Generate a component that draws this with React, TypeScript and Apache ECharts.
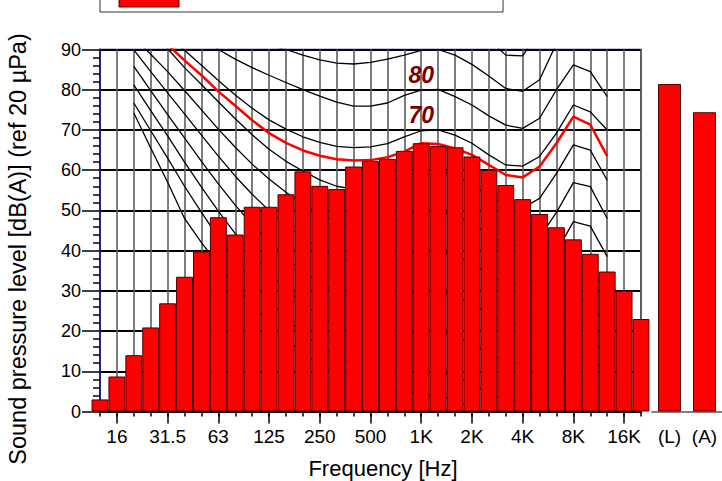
import React, { useEffect, useRef } from "react";
import * as echarts from "echarts";

const FONT = "'Liberation Sans', Arial, Helvetica, sans-serif";

// third-octave band centres shown on the x axis (12.5 Hz .. 20 kHz)
const bands = ["12.5", "16", "20", "25", "31.5", "40", "50", "63", "80", "100", "125", "160", "200", "250", "315", "400", "500", "630", "800", "1K", "1.25K", "1.6K", "2K", "2.5K", "3.15K", "4K", "5K", "6.3K", "8K", "10K", "12.5K", "16K", "20K"];
const tickLabels = ["16", "31.5", "63", "125", "250", "500", "1K", "2K", "4K", "8K", "16K"];
// measured band levels dB(A)
const spectrum = [3.0, 8.7, 14.0, 20.9, 26.9, 33.5, 39.8, 48.3, 44.0, 50.9, 50.9, 54.0, 59.7, 56.1, 55.3, 60.9, 62.3, 62.8, 64.8, 66.7, 66.0, 65.7, 63.4, 60.1, 56.3, 52.8, 49.1, 45.8, 42.8, 39.2, 34.8, 30.0, 23.0];
const totalCats = ["(L)", "(A)"];
const totals = [81.4, 74.4];

// equal-loudness contours, 20 Hz .. 12.5 kHz
const contourBands = ["20", "25", "31.5", "40", "50", "63", "80", "100", "125", "160", "200", "250", "315", "400", "500", "630", "800", "1K", "1.25K", "1.6K", "2K", "2.5K", "3.15K", "4K", "5K", "6.3K", "8K", "10K", "12.5K"];
const phon100 = [125, 120, 115, 111, 108, 105, 103, 101.5, 100.5, 99.5, 98.5, 97.5, 96.8, 96.4, 96.6, 97.3, 98.5, 99.8, 100, 98.6, 96, 92.4, 88.6, 88.4, 94.8, 101, 106, 104, 101];
const phon90 = [118, 113, 108.5, 104, 100.5, 97, 94.5, 92.5, 91, 90, 88.6, 87.4, 86.6, 86.4, 86.8, 87.6, 88.6, 89.8, 90, 88.6, 86.3, 83.4, 80.3, 79.6, 82.5, 91.5, 96, 94.5, 91];
const phon80 = [110, 105.5, 101, 97, 93.4, 90, 87.6, 85.5, 83.6, 81.8, 80, 78.4, 76.9, 75.9, 75.9, 76.7, 78.6, 79.9, 80.1, 78.3, 76.2, 73.5, 71.2, 70.4, 72.9, 80, 86.2, 84.5, 78.3];
const phon70 = [101, 97.3, 93.5, 89.8, 86.1, 82.3, 78.7, 75.4, 72.5, 70.2, 68.3, 66.9, 65.9, 65.6, 65.8, 66.6, 68.3, 69.8, 70, 68.7, 66.7, 63.8, 61.3, 61.0, 63.4, 69.2, 76.2, 74.5, 70];
const phonMeasured = [99, 95, 91.2, 87.3, 83.6, 79.6, 76, 72.4, 69.2, 66.8, 64.9, 63.6, 62.7, 62.4, 62.5, 63.2, 64.6, 66.7, 66.5, 65.4, 63.8, 61.3, 58.8, 58.2, 60.9, 66.7, 73.3, 71.3, 63.5];
const phon60 = [97.5, 93.8, 90.2, 85.5, 81.3, 77, 72.8, 68.8, 65.2, 62.2, 59.8, 57.6, 56, 55.3, 55.5, 56.5, 58.4, 60, 60, 58.6, 56.5, 53.5, 51, 50.6, 53, 59.2, 66.3, 65, 57.5];
const phon50 = [93, 88.8, 84.5, 79.8, 75, 70.2, 65.7, 61.5, 57.8, 54.5, 51.5, 49, 47, 46, 46, 46.8, 48.5, 50, 50, 48.8, 46.8, 44, 41.5, 41, 43.3, 49.5, 56.9, 55.9, 48];
const phon40 = [89.9, 84.5, 79.2, 74, 68.7, 63.5, 58.5, 54, 50, 46.3, 43.2, 40.5, 38.3, 37, 36.5, 37, 38.6, 40, 40, 38.8, 36.8, 34.2, 31.8, 31.3, 33.6, 39.7, 47.2, 46.1, 38.5];
const phon30 = [85.8, 79.8, 73.8, 68, 62.2, 56.6, 51.3, 46.5, 42.2, 38.3, 34.8, 32, 29.6, 28, 27.3, 27.6, 28.8, 30, 30, 28.8, 26.8, 24.3, 22, 21.5, 24, 30, 37.5, 36.5, 29];
const phon20 = [81.2, 74.8, 68.5, 62, 55.8, 49.8, 44.2, 39.2, 34.6, 30.4, 26.8, 23.8, 21.3, 19.5, 18.4, 18.3, 19.2, 20, 20, 18.8, 16.8, 14.5, 12.3, 11.8, 14.3, 20.3, 28, 27.5, 20.5];
const phon10 = [76.7, 69.8, 63, 56, 49.5, 43.3, 37.5, 32.3, 27.6, 23.2, 19.4, 16.2, 13.6, 11.5, 10.2, 9.7, 10, 10, 10, 8.8, 6.8, 4.6, 2.6, 2.2, 4.8, 11, 19, 19, 13];
const threshold = [74.2, 65.5, 57, 48, 42, 36.5, 31, 26.5, 22, 18, 14.6, 11.6, 9.2, 7.3, 6, 5.3, 5, 4.2, 3.8, 2.8, 0.8, -1.5, -3.3, -3.8, -1.2, 5, 13, 14, 9];

const blackContours = [phon100, phon90, phon80, phon70, phon60, phon50, phon40, phon30, phon20, phon10, threshold];
// contour labels placed at 1 kHz
const contourLabels = ["80", "70"];
const labelledContours = [phon80, phon70];

function contourData(values: number[]) {
  return values.map((v, k) => [bands.indexOf(contourBands[k]), v]);
}

export default function App() {
  const ref = useRef<HTMLDivElement>(null);

  useEffect(() => {
    document.body.style.margin = "0";
    if (!ref.current) return;
    const chart = echarts.init(ref.current, undefined, { renderer: "svg" });
    const labelPos = tickLabels.map((l) => bands.indexOf(l));
    const k1 = contourBands.indexOf("1K");

    const series: any[] = [];
    blackContours.forEach((values) => {
      series.push({
        type: "line",
        xAxisIndex: 0,
        yAxisIndex: 0,
        data: contourData(values),
        symbol: "none",
        silent: true,
        z: 2,
        lineStyle: { color: "#000", width: 1.3 },
        clip: true,
      });
    });
    series.push({
      type: "line",
      xAxisIndex: 0,
      yAxisIndex: 0,
      data: contourData(phonMeasured),
      symbol: "none",
      silent: true,
      z: 2,
      lineStyle: { color: "#ff0000", width: 2.5 },
      clip: true,
    });
    series.push({
      type: "bar",
      xAxisIndex: 0,
      yAxisIndex: 0,
      z: 5,
      data: spectrum.map((v, i) => [i, v]),
      barWidth: 16.9,
      clip: true,
      itemStyle: { color: "#ff0000", borderColor: "#4a0000", borderWidth: 1 },
    });
    series.push({
      type: "scatter",
      xAxisIndex: 0,
      yAxisIndex: 0,
      z: 8,
      silent: true,
      symbolSize: 2,
      itemStyle: { color: "rgba(0,0,0,0)", opacity: 1 },
      data: labelledContours.map((vals, i) => ({
        name: contourLabels[i],
        value: [bands.indexOf("1K"), vals[k1]],
      })),
      label: {
        show: true,
        position: "top",
        distance: 3,
        formatter: (p: any) => p.name,
        color: "#7a0000",
        opacity: 1,
        fontSize: 23,
        fontWeight: "bold",
        fontStyle: "italic",
        fontFamily: FONT,
      },
    });
    series.push({
      type: "bar",
      xAxisIndex: 2,
      yAxisIndex: 1,
      z: 5,
      data: totals,
      barWidth: 23,
      itemStyle: { color: "#ff0000", borderColor: "#4a0000", borderWidth: 1 },
    });

    chart.setOption({
      animation: false,
      backgroundColor: "#fff",
      textStyle: { fontFamily: FONT },
      grid: [
        { left: 100, right: 81, top: 49.5, bottom: 69.5, show: true, borderColor: "#23237a", borderWidth: 1.5, backgroundColor: "#fff" },
        { left: 652, width: 72, top: 49.5, bottom: 69.5 },
      ],
      xAxis: [
        {
          gridIndex: 0,
          type: "value",
          min: 0,
          max: 32,
          interval: 1,
          axisLine: { show: true, lineStyle: { color: "#000", width: 2 } },
          axisTick: { show: true, length: 5, lineStyle: { color: "#000", width: 1.5 } },
          axisLabel: { show: false },
          splitLine: { show: true, lineStyle: { color: "#5e5e5e", width: 1.6 } },
        },
        {
          gridIndex: 0,
          type: "value",
          min: 0,
          max: 32,
          position: "bottom",
          axisLine: { show: false },
          axisTick: { show: true, length: 12, customValues: labelPos, lineStyle: { color: "#000", width: 1.5 } },
          axisLabel: {
            show: true,
            customValues: labelPos,
            formatter: (v: number) => bands[Math.round(v)],
            fontSize: 19,
            color: "#000",
            margin: 15,
            fontFamily: FONT,
          },
          splitLine: { show: false },
        },
        {
          gridIndex: 1,
          type: "category",
          data: totalCats,
          axisLine: { show: true, lineStyle: { color: "#808080", width: 2 } },
          axisTick: { show: false },
          axisLabel: { fontSize: 19, color: "#000", margin: 15, fontFamily: FONT },
        },
      ],
      yAxis: [
        {
          gridIndex: 0,
          type: "value",
          min: 0,
          max: 90,
          interval: 10,
          axisLine: { show: true, lineStyle: { color: "#23237a", width: 2 } },
          axisTick: { show: true, length: 18, lineStyle: { color: "#000", width: 1.5 } },
          minorTick: { show: true, splitNumber: 5, length: 7, lineStyle: { color: "#000", width: 1.5 } },
          axisLabel: { fontSize: 18, color: "#000", margin: 19, fontFamily: FONT },
          splitLine: { show: true, lineStyle: { color: "#000", width: 2 } },
        },
        { gridIndex: 1, type: "value", min: 0, max: 90, show: false },
      ],
      series,
      graphic: [
        {
          type: "rect",
          shape: { x: 100, y: -30, width: 403, height: 42 },
          style: { fill: "#fff", stroke: "#333", lineWidth: 1 },
          z: 10,
        },
        {
          type: "rect",
          shape: { x: 119, y: -20, width: 60, height: 27 },
          style: { fill: "#ff0000", stroke: "#500", lineWidth: 1 },
          z: 11,
        },
        {
          type: "text",
          x: 18,
          y: 249,
          rotation: Math.PI / 2,
          style: { text: "Sound pressure level [dB(A)] (ref 20 µPa)", fontSize: 23.5, fill: "#000", fontFamily: FONT, align: "center", verticalAlign: "middle" },
        },
        {
          type: "text",
          x: 383,
          y: 468,
          style: { text: "Frequency [Hz]", fontSize: 22, fill: "#000", fontFamily: FONT, align: "center", verticalAlign: "middle" },
        },
      ],
    });
    return () => chart.dispose();
  }, []);

  return <div ref={ref} style={{ width: 722, height: 481 }} />;
}
